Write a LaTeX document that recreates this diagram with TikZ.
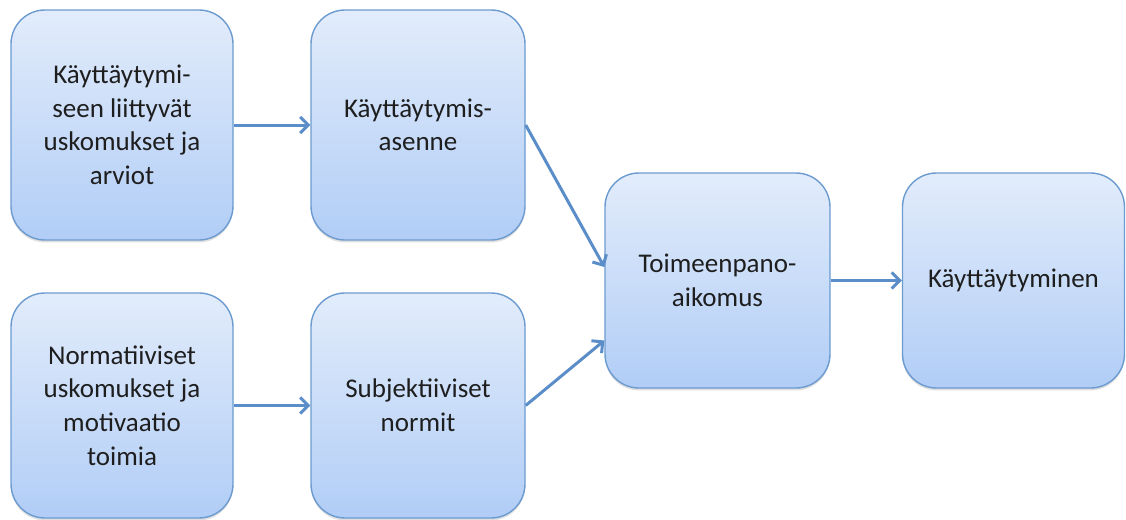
\documentclass[tikz,border=0pt]{standalone}
\usepackage{fontspec}
\setmainfont{Carlito}
\usetikzlibrary{arrows.meta,shadows}
\definecolor{boxtop}{HTML}{E2ECFB}
\definecolor{boxbottom}{HTML}{B1CDF6}
\definecolor{boxline}{HTML}{6C9BD0}
\definecolor{arrowblue}{HTML}{5B8DC8}
\definecolor{textgray}{HTML}{1E1E1E}

\begin{document}
\begin{tikzpicture}[x=0.5pt, y=-0.5pt]
  \tikzstyle{o} = [draw=boxline, line width=0.7pt, rounded corners=17pt,
  top color=boxtop, bottom color=boxbottom, align=center, inner sep=0pt,
  text=textgray, font=\fontsize{13.5}{16.8}\selectfont,
  drop shadow={shadow xshift=0pt, shadow yshift=-1.2pt, opacity=0.25}];
  \tikzstyle{wide} = [minimum width=111pt];
  \tikzstyle{narrow} = [minimum width=107pt];
  \tikzstyle{a} = [line width=1.5pt, color=arrowblue,
  -{Straight Barb[length=4pt, width=8pt]}];

  \useasboundingbox (0, 0) rectangle (1126, 520);

  \node[o,wide,minimum height=115pt] (us1) at (122, 125)
    {Käyttäytymi-\\seen liittyvät\\uskomukset ja\\arviot};
  \node[o,narrow,minimum height=115pt] (as) at (418, 125)
    {Käyttäytymis-\\asenne};

  \node[o,wide,minimum height=112.5pt] (us2) at (122, 405.5)
    {Normatiiviset\\uskomukset ja\\motivaatio\\toimia};
  \node[o,narrow,minimum height=112.5pt] (sn) at (418, 405.5)
    {Subjektiiviset\\normit};

  \node[o,minimum width=112.5pt,minimum height=107.5pt] (ai) at (717.5, 280.5)
    {Toimeenpano-\\aikomus};
  \node[o,minimum width=111pt,minimum height=107.5pt] (kt) at (1013.5, 280.5)
    {Käyttäytyminen};

  \draw[a] (us1) -- (as);
  \draw[a] (us2) -- (sn);

  \draw[a] (as.east) -- ([yshift=6.75pt]ai.west);
  \draw[a] (sn.east) -- ([yshift=-30pt]ai.west);

  \draw[a] (ai) -- (kt);
\end{tikzpicture}
\end{document}
